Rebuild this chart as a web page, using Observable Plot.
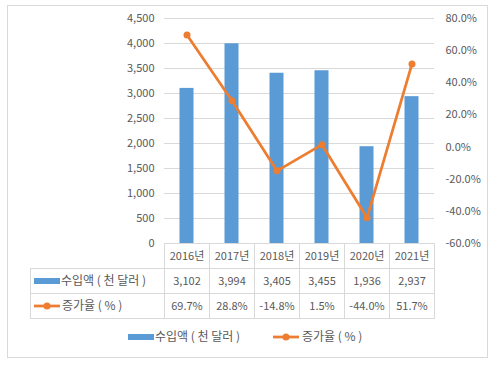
<!DOCTYPE html>
<html>
<head>
<meta charset="utf-8">
<script src="https://cdn.jsdelivr.net/npm/d3@7"></script>
<script src="https://cdn.jsdelivr.net/npm/@observablehq/plot@0.6"></script>
<style>
  html, body { margin: 0; padding: 0; background: #fff; }
  #wrap { position: relative; width: 496px; height: 366px; }
  #frame { position: absolute; left: 7px; top: 5px; width: 479px; height: 351px; border: 1px solid #D9D9D9; box-sizing: content-box; pointer-events: none; }
  svg { font-family: "Noto Sans CJK KR", "Noto Sans", sans-serif; }
</style>
</head>
<body>
<div id="wrap"><div id="frame"></div></div>
<script>
const years = ["2016년", "2017년", "2018년", "2019년", "2020년", "2021년"];
const imports = [3102, 3994, 3405, 3455, 1936, 2937];
const growth = [69.7, 28.8, -14.8, 1.5, -44.0, 51.7];
const leftTicks = [0, 500, 1000, 1500, 2000, 2500, 3000, 3500, 4000, 4500];
const rightTicks = [-60, -40, -20, 0, 20, 40, 60, 80];
const seriesNames = ["수입액 ( 천 달러 )", "증가율 ( % )"];

const BLUE = "#5B9BD5", ORANGE = "#ED7D31", TXT = "#595959", GRID = "#D9D9D9";
const LMAX = 4500, RMIN = -60, RMAX = 80;
const toLeft = p => (p - RMIN) / (RMAX - RMIN) * LMAX;
const fromLeft = v => v / LMAX * (RMAX - RMIN) + RMIN;

const data = years.map((y, i) => ({year: y, imports: imports[i], growth: growth[i]}));
const fmtInt = d3.format(",");
const fmtPct = p => p.toFixed(1) + "%";

const mL = 164, mR = 62, mT = 18, mB = 123, W = 496, H = 366;

const plot = Plot.plot({
  width: W, height: H,
  marginLeft: mL, marginRight: mR, marginTop: mT, marginBottom: mB,
  style: {fontFamily: '"Noto Sans CJK KR", "Noto Sans", sans-serif', fontSize: "11px", color: TXT, background: "transparent"},
  x: {type: "band", domain: years, padding: 0, axis: null, label: null},
  y: {domain: [0, LMAX], axis: null, label: null},
  marks: [
    Plot.gridY(leftTicks, {stroke: GRID, strokeOpacity: 1, strokeWidth: 1}),
    Plot.axisY(leftTicks, {anchor: "left", label: null, tickSize: 0, tickPadding: 10, tickFormat: fmtInt, fill: TXT, fontSize: 11}),
    Plot.axisY(rightTicks.map(toLeft), {anchor: "right", label: null, tickSize: 0, tickPadding: 11, tickFormat: d => fmtPct(fromLeft(d)), fill: TXT, fontSize: 11}),
    Plot.barY(data, {x: "year", y: "imports", fill: BLUE, insetLeft: 15.5, insetRight: 15.5}),
    Plot.line(data, {x: "year", y: d => toLeft(d.growth), stroke: ORANGE, strokeWidth: 2.75, curve: "linear"}),
    Plot.dot(data, {x: "year", y: d => toLeft(d.growth), r: 3.5, fill: ORANGE, stroke: "none"}),
    Plot.text(data, {x: "year", y: () => 0, dy: 13, text: "year", fill: TXT, fontSize: 11}),
    Plot.text(data, {x: "year", y: () => 0, dy: 38, text: d => fmtInt(d.imports), fill: TXT, fontSize: 11}),
    Plot.text(data, {x: "year", y: () => 0, dy: 63, text: d => fmtPct(d.growth), fill: TXT, fontSize: 11})
  ]
});

document.getElementById("wrap").appendChild(plot);

// data table grid lines, positioned from the x scale
const xs = plot.scale("x");
const bw = xs.bandwidth;
const svg = d3.select(plot);
const g = svg.append("g").attr("stroke", GRID).attr("stroke-width", 1).attr("shape-rendering", "crispEdges");
const y0 = H - mB;           // baseline
const r1 = y0 + 25.5, r2 = r1 + 25, r3 = r2 + 25;
const tableLeft = 30;
const xEdges = years.map(y => xs.apply(y)).concat([xs.apply(years[years.length - 1]) + bw]);
xEdges.forEach(xe => g.append("line").attr("x1", xe).attr("x2", xe).attr("y1", y0).attr("y2", r3));
g.append("line").attr("x1", tableLeft).attr("x2", tableLeft).attr("y1", r1).attr("y2", r3);
[r1, r2, r3].forEach(ry => g.append("line").attr("x1", tableLeft).attr("x2", xEdges[xEdges.length - 1]).attr("y1", ry).attr("y2", ry));

// row labels with legend keys
function legendKey(sel, x, y, kind) {
  if (kind === 0) {
    sel.append("rect").attr("x", x).attr("y", y - 3).attr("width", 26).attr("height", 6).attr("fill", BLUE);
  } else {
    sel.append("line").attr("x1", x).attr("x2", x + 26).attr("y1", y).attr("y2", y).attr("stroke", ORANGE).attr("stroke-width", 2.75);
    sel.append("circle").attr("cx", x + 13).attr("cy", y).attr("r", 3.5).attr("fill", ORANGE);
  }
}
const lab = svg.append("g").attr("font-size", 12).attr("fill", TXT).attr("text-anchor", "start");
[(r1 + r2) / 2, (r2 + r3) / 2].forEach((cy, i) => {
  legendKey(lab, 34, cy, i);
  lab.append("text").attr("x", i === 0 ? 61 : 62).attr("y", cy).attr("dy", "0.35em").text(seriesNames[i]);
});

// bottom legend
const ly = 337;
legendKey(lab, 128, ly, 0);
lab.append("text").attr("x", 155).attr("y", ly).attr("dy", "0.35em").text(seriesNames[0]);
legendKey(lab, 273, ly, 1);
lab.append("text").attr("x", 302).attr("y", ly).attr("dy", "0.35em").text(seriesNames[1]);
</script>
</body>
</html>
